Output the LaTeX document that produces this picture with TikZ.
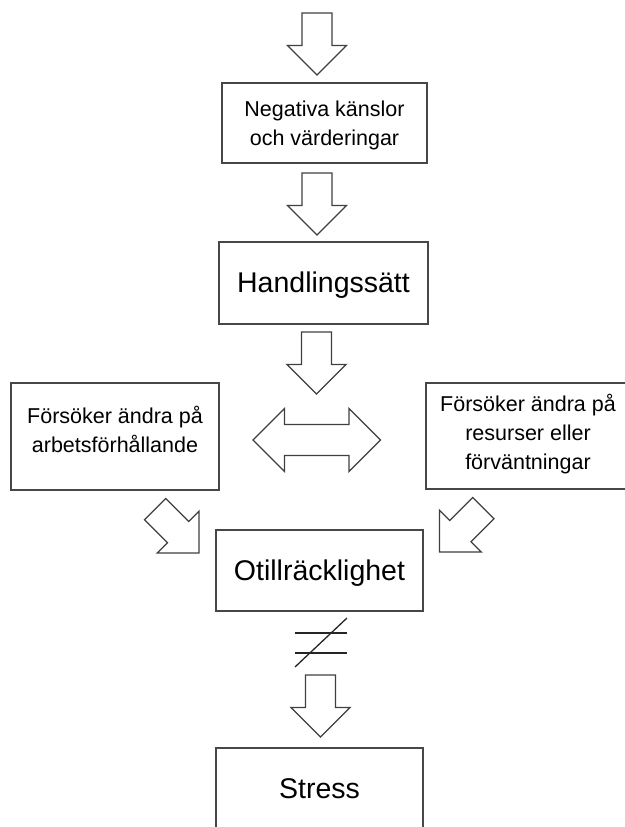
\documentclass[tikz,border=0pt]{standalone}
\usepackage{fontspec}
\setmainfont{Liberation Sans}
\usetikzlibrary{shadows}
\begin{document}
\begin{tikzpicture}[x=1pt,y=-1pt,
  box/.style={rectangle, draw=black!72, line width=1.3pt, fill=white, inner sep=0pt,
    drop shadow={shadow xshift=0.8pt, shadow yshift=-0.9pt, opacity=0.35}},
  txt/.style={align=center, inner sep=0pt, text=black},
  small/.style={font=\fontsize{21.5}{29}\selectfont},
  big/.style={font=\fontsize{28.5}{34}\selectfont},
  arrowline/.style={draw=black!75, line width=1.3pt, fill=white, line join=miter},
  blockdown/.pic={
    \draw[arrowline] (0,0) -- (29.5,-29.5) -- (15,-29.5) -- (15,-62)
      -- (-15,-62) -- (-15,-29.5) -- (-29.5,-29.5) -- cycle;}
]
\useasboundingbox (0,0) rectangle (624,827);

% boxes
\node[box, minimum width=205pt, minimum height=80pt] (neg) at (324.5,123) {};
\node[txt, small] (negtext) at (324.5,125) {Negativa känslor\\och värderingar};

\node[box, minimum width=209pt, minimum height=82pt] (hand) at (323.5,283) {};
\node[txt, big] (handtext) at (323.5,285) {Handlingssätt};

\node[box, minimum width=208pt, minimum height=107pt] (left) at (115,436.5) {};
\node[txt, small] (lefttext) at (115,429) {Försöker ändra på\\arbetsförhållande};

\node[box, minimum width=209pt, minimum height=106pt] (right) at (530.5,436) {};
\node[txt, small] (righttext) at (528,434) {Försöker ändra på\\resurser eller\\förväntningar};

\node[box, minimum width=207pt, minimum height=81pt] (otill) at (319.5,570.5) {};
\node[txt, big] (otilltext) at (319.5,573) {Otillräcklighet};

\node[box, minimum width=207pt, minimum height=81pt] (stress) at (319.5,788.5) {};
\node[txt, big] (stresstext) at (319.5,789) {Stress};

% block arrows
\pic at (317,75) {blockdown};
\pic at (317,235) {blockdown};
\pic at (316.5,394) {blockdown};
\pic at (320.5,737) {blockdown};
\pic[rotate=45] at (199,553) {blockdown};
\pic[rotate=-45] at (439.5,552) {blockdown};

% double-headed block arrow between the side boxes
\draw[arrowline] (253,440) -- (284.5,408.5) -- (284.5,424.5) -- (349,424.5)
  -- (349,408.5) -- (380.5,440) -- (349,471.5) -- (349,455.5) -- (284.5,455.5)
  -- (284.5,471.5) -- cycle;

% not-equal sign
\draw[black!85, line width=1.6pt] (295,633) -- (347,633);
\draw[black!85, line width=1.6pt] (295,653) -- (347,653);
\draw[black!85, line width=1.3pt] (295,667) -- (347,618);
\end{tikzpicture}
\end{document}
